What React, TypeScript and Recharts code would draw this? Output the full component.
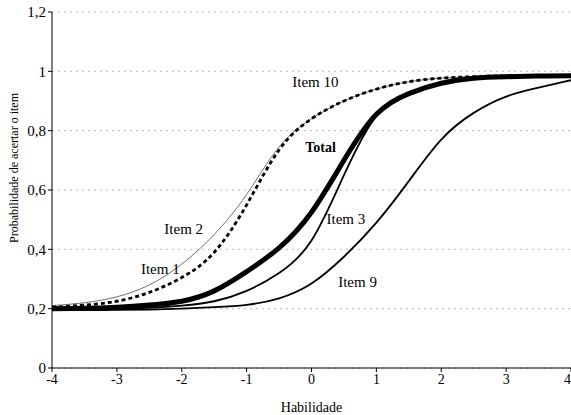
import {
	CartesianGrid,
	Line,
	LineChart,
	ReferenceDot,
	XAxis,
	YAxis,
} from 'recharts'

// habilidade (theta) grid
const habilidade = [-4, -3.5, -3, -2.5, -2, -1.5, -1, -0.5, 0, 0.5, 1, 1.5, 2, 2.5, 3, 3.5, 4]

// probabilities
const item1 = [0.205, 0.212, 0.225, 0.255, 0.305, 0.39, 0.55, 0.735, 0.84, 0.9, 0.94, 0.965, 0.977, 0.982, 0.985, 0.985, 0.985]
const item2 = [0.21, 0.22, 0.24, 0.28, 0.35, 0.45, 0.585, 0.745, 0.84, 0.9, 0.94, 0.965, 0.977, 0.982, 0.985, 0.985, 0.985]
const item3 = [0.2, 0.2, 0.2, 0.203, 0.21, 0.225, 0.26, 0.32, 0.43, 0.65, 0.85, 0.925, 0.96, 0.977, 0.982, 0.984, 0.985]
const item9 = [0.195, 0.195, 0.196, 0.197, 0.2, 0.205, 0.213, 0.235, 0.285, 0.375, 0.49, 0.63, 0.77, 0.86, 0.915, 0.945, 0.97]
const total = [0.2, 0.201, 0.205, 0.212, 0.225, 0.26, 0.325, 0.405, 0.525, 0.7, 0.855, 0.925, 0.96, 0.977, 0.982, 0.984, 0.985]

const xTicks = [-4, -3, -2, -1, 0, 1, 2, 3, 4]
const yTicks = [0, 0.2, 0.4, 0.6, 0.8, 1, 1.2]

const labels = [
	{ text: 'Item 10', x: 0.06, y: 0.965, bold: false },
	{ text: 'Total', x: 0.14, y: 0.745, bold: true },
	{ text: 'Item 2', x: -1.97, y: 0.47, bold: false },
	{ text: 'Item 1', x: -2.33, y: 0.335, bold: false },
	{ text: 'Item 3', x: 0.53, y: 0.505, bold: false },
	{ text: 'Item 9', x: 0.71, y: 0.29, bold: false },
]

const data = habilidade.map((x, i) => ({
	x,
	item1: item1[i],
	item2: item2[i],
	item3: item3[i],
	item9: item9[i],
	total: total[i],
}))

const font = '"Liberation Serif", "DejaVu Serif", serif'
const fmt = (v: number) => String(v).replace('.', ',')

const YTitle = () => (
	<text
		x={14}
		y={168}
		transform="rotate(-90, 14, 168)"
		textAnchor="middle"
		dominantBaseline="central"
		fill="#000"
		fontSize={12}
		fontFamily={font}
	>
		Probabilidade de acertar o item
	</text>
)

export default function App() {
	return (
		<div style={{ position: 'absolute', left: 0, top: 0, background: '#fff' }}>
			<LineChart
				width={571}
				height={415}
				data={data}
				margin={{ top: 12, right: 0, bottom: 0, left: 0 }}
				style={{ fontFamily: font }}
			>
				<CartesianGrid vertical={false} stroke="#bbb" strokeDasharray="2 4" />
				<XAxis
					dataKey="x"
					type="number"
					domain={[-4, 4]}
					ticks={xTicks}
					height={47}
					stroke="#000"
					tickSize={4}
					tick={{ fill: '#000', fontSize: 14, fontFamily: font }}
					label={{ value: 'Habilidade', position: 'insideBottom', offset: 3, fill: '#000', fontSize: 14, fontFamily: font }}
				/>
				<YAxis
					type="number"
					domain={[0, 1.2]}
					ticks={yTicks}
					width={52}
					stroke="#000"
					tickSize={4}
					tickFormatter={fmt}
					tick={{ fill: '#000', fontSize: 15, fontFamily: font }}
					label={<YTitle />}
				/>
				<Line type="natural" dataKey="item9" stroke="#000" strokeWidth={1.8} dot={false} isAnimationActive={false} />
				<Line type="natural" dataKey="item3" stroke="#000" strokeWidth={1.8} dot={false} isAnimationActive={false} />
				<Line type="natural" dataKey="item2" stroke="#333" strokeWidth={0.7} dot={false} isAnimationActive={false} />
				<Line type="natural" dataKey="item1" stroke="#000" strokeWidth={2.8} strokeDasharray="4 3" dot={false} isAnimationActive={false} />
				<Line type="natural" dataKey="total" stroke="#000" strokeWidth={5} dot={false} isAnimationActive={false} />
				{labels.map((l) => (
					<ReferenceDot
						key={l.text}
						x={l.x}
						y={l.y}
						r={0}
						fill="none"
						stroke="none"
						label={{
							value: l.text,
							position: 'center',
							fill: '#000',
							fontSize: l.bold ? 14 : 15,
							fontFamily: font,
							fontWeight: l.bold ? 'bold' : 'normal',
						}}
					/>
				))}
			</LineChart>
		</div>
	)
}
